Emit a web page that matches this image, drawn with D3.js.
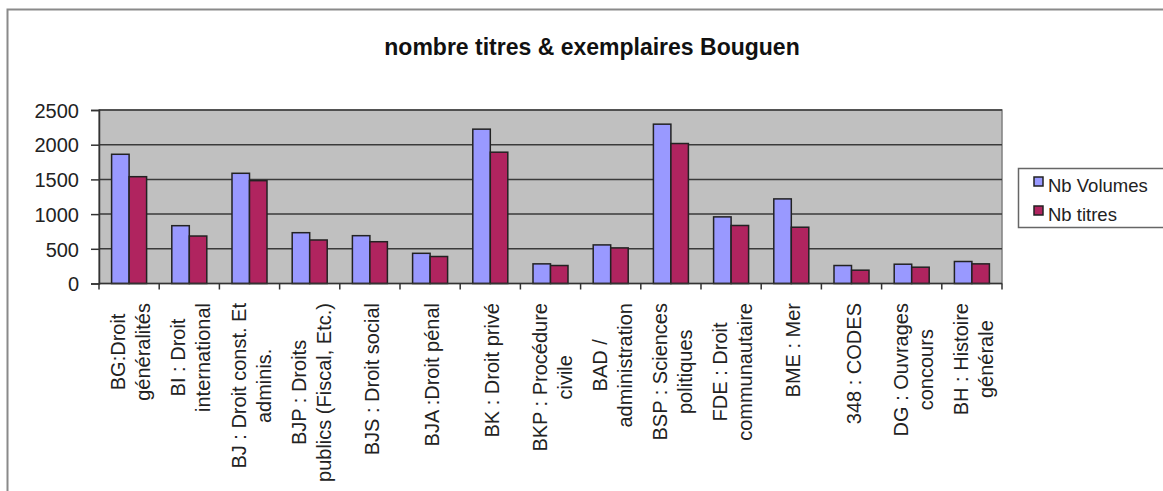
<!DOCTYPE html>
<meta charset="utf-8">
<style>
    body {
        margin: 0;
        background: #fff;
        font-family: "Liberation Sans", Arial, sans-serif;
    }
    .y.axis text, .cat text {
        font-size: 20px;
        fill: #222;
    }
    .grid line {
        stroke: #3a3a3a;
        stroke-width: 1.5;
    }
    rect.bar {
        stroke: #222;
        stroke-width: 1.5;
    }
</style>
<body>
<div id="main"></div>
<script src="https://cdn.jsdelivr.net/npm/d3@7/dist/d3.min.js"></script>
<script>
// categories, split on the line breaks shown in the chart
var categories = [
    ["BG:Droit", "généralités"],
    ["BI : Droit", "international"],
    ["BJ : Droit const. Et", "adminis."],
    ["BJP : Droits", "publics (Fiscal, Etc.)"],
    ["BJS : Droit social"],
    ["BJA :Droit pénal"],
    ["BK : Droit privé"],
    ["BKP : Procédure", "civile"],
    ["BAD /", "administration"],
    ["BSP : Sciences", "politiques"],
    ["FDE : Droit", "communautaire"],
    ["BME : Mer"],
    ["348 : CODES"],
    ["DG : Ouvrages", "concours"],
    ["BH : Histoire", "générale"]
];
var nbVolumes = [1862, 833, 1588, 732, 689, 435, 2224, 283, 556, 2296, 960, 1219, 259, 278, 317];
var nbTitres  = [1539, 684, 1482, 627, 602, 389, 1892, 259, 513, 2017, 836, 811, 192, 235, 283];
var seriesNames = ["Nb Volumes", "Nb titres"];
var yTicks = [0, 500, 1000, 1500, 2000, 2500];
var title = "nombre titres & exemplaires Bouguen";

var colors = ["#9999ff", "#b0245f"];
var W = 1163, H = 491;
var plot = {left: 99, right: 1002, top: 110, bottom: 283.5};

var svg = d3.select("#main").append("svg")
        .attr("width", W)
        .attr("height", H);

// outer chart frame
svg.append("rect")
        .attr("x", 7.5).attr("y", 9.5)
        .attr("width", W + 20).attr("height", H + 20)
        .attr("fill", "#fff")
        .attr("stroke", "#8a8a8a")
        .attr("stroke-width", 2);

svg.append("text")
        .attr("x", 592).attr("y", 55)
        .attr("text-anchor", "middle")
        .style("font-size", "23px")
        .style("font-weight", "bold")
        .style("fill", "#111")
        .text(title);

var x = d3.scaleBand()
        .domain(d3.range(categories.length))
        .range([plot.left, plot.right]);

var y = d3.scaleLinear()
        .domain([0, 2500])
        .range([plot.bottom, plot.top]);

var barW = 17.5;

// plot background
svg.append("rect")
        .attr("x", plot.left).attr("y", plot.top)
        .attr("width", plot.right - plot.left)
        .attr("height", plot.bottom - plot.top)
        .attr("fill", "#c0c0c0")
        .attr("stroke", "#808080")
        .attr("stroke-width", 1.5);

svg.append("g")
        .attr("class", "grid")
        .selectAll("line")
        .data(yTicks.slice(1))
        .enter().append("line")
        .attr("x1", plot.left).attr("x2", plot.right)
        .attr("y1", function(d) { return y(d); })
        .attr("y2", function(d) { return y(d); });

// bars
var groups = svg.append("g").selectAll("g")
        .data(categories.map(function(c, i) { return [nbVolumes[i], nbTitres[i]]; }))
        .enter().append("g")
        .attr("transform", function(d, i) {
            return "translate(" + (x(i) + x.bandwidth() / 2 - barW) + ",0)";
        });

groups.selectAll("rect")
        .data(function(d) { return d; })
        .enter().append("rect")
        .attr("class", "bar")
        .attr("x", function(d, j) { return j * barW; })
        .attr("y", function(d) { return y(d); })
        .attr("width", barW)
        .attr("height", function(d) { return y(0) - y(d); })
        .attr("fill", function(d, j) { return colors[j]; });

// y axis
var yAxis = d3.axisLeft(y)
        .tickValues(yTicks)
        .tickFormat(d3.format("d"))
        .tickSize(8)
        .tickPadding(12);

var gy = svg.append("g")
        .attr("class", "y axis")
        .attr("transform", "translate(" + plot.left + ",0)")
        .call(yAxis);
gy.select(".domain").attr("stroke", "#333").attr("stroke-width", 1.5);
gy.selectAll(".tick line").attr("stroke", "#333").attr("stroke-width", 1.5);
gy.selectAll("text").attr("dy", "0.36em");

// x axis: baseline and ticks at band edges
var gx = svg.append("g").attr("class", "x axis");
gx.append("line")
        .attr("x1", plot.left).attr("x2", plot.right)
        .attr("y1", y(0)).attr("y2", y(0))
        .attr("stroke", "#333").attr("stroke-width", 1.5);
gx.selectAll("line.tk")
        .data(d3.range(categories.length + 1))
        .enter().append("line")
        .attr("class", "tk")
        .attr("x1", function(i) { return plot.left + i * x.bandwidth(); })
        .attr("x2", function(i) { return plot.left + i * x.bandwidth(); })
        .attr("y1", y(0)).attr("y2", y(0) + 6)
        .attr("stroke", "#333").attr("stroke-width", 1.5);

// rotated category labels, lines centred, block top at the axis
var labelTop = 303;
var cats = svg.append("g").attr("class", "cat")
        .selectAll("g")
        .data(categories)
        .enter().append("g")
        .attr("transform", function(d, i) {
            return "translate(" + (x(i) + x.bandwidth() / 2) + "," + labelTop + ") rotate(-90)";
        });

cats.each(function(lines) {
    var g = d3.select(this);
    var offs = lines.length === 1 ? [9] : [-4, 21];
    var texts = g.selectAll("text")
            .data(lines)
            .enter().append("text")
            .attr("text-anchor", "middle")
            .attr("y", function(d, k) { return offs[k]; })
            .text(function(d) { return d; });
    var maxW = d3.max(texts.nodes(), function(n) { return n.getComputedTextLength(); });
    texts.attr("x", -maxW / 2);
});

// legend
var lg = svg.append("g").attr("transform", "translate(1018,168)");
lg.append("rect")
        .attr("x", 0.5).attr("y", 0.5)
        .attr("width", 160).attr("height", 59)
        .attr("fill", "#fff")
        .attr("stroke", "#666")
        .attr("stroke-width", 1.5);
var items = lg.selectAll("g.item")
        .data(seriesNames)
        .enter().append("g")
        .attr("class", "item")
        .attr("transform", function(d, i) { return "translate(16," + (9 + i * 29) + ")"; });
items.append("rect")
        .attr("width", 9).attr("height", 9)
        .attr("fill", function(d, i) { return colors[i]; })
        .attr("stroke", "#222")
        .attr("stroke-width", 1.5);
items.append("text")
        .attr("x", 14).attr("y", 15)
        .style("font-size", "18.5px")
        .style("fill", "#222")
        .text(function(d) { return d; });
</script>
</body>
